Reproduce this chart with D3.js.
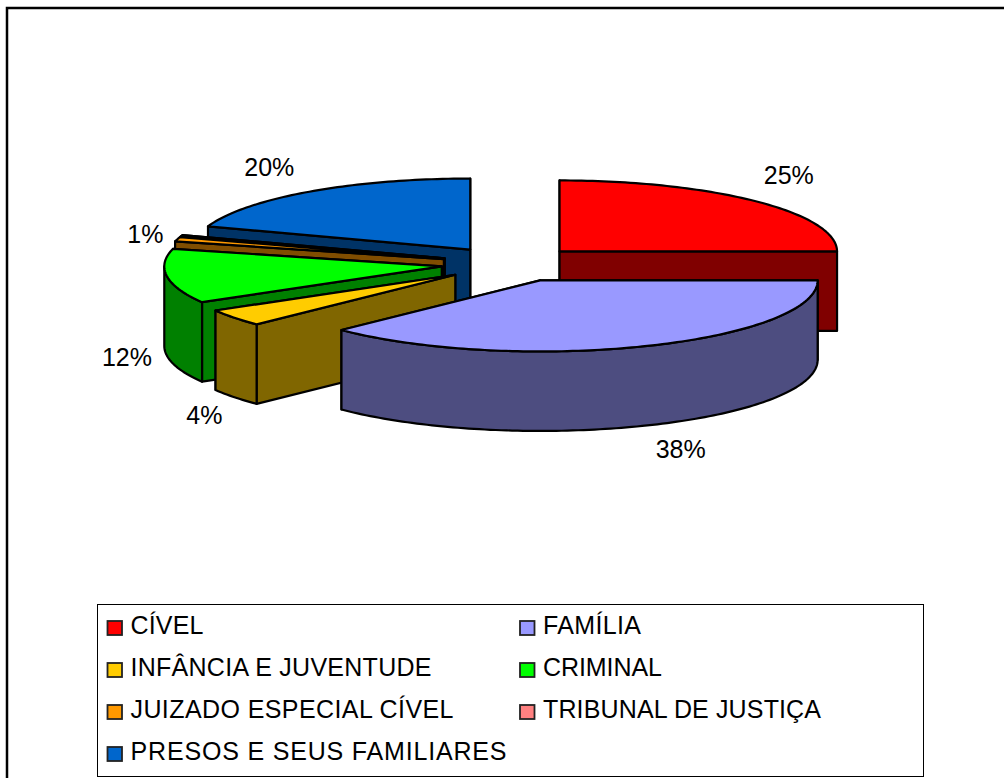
<!DOCTYPE html>
<html>
<head>
<meta charset="utf-8">
<style>
  html, body { margin: 0; padding: 0; background: #fff; }
  svg { display: block; }
  text { font-family: "Liberation Sans", Arial, sans-serif; fill: #000; }
</style>
</head>
<body>
<div id="chart"></div>
<script src="https://cdn.jsdelivr.net/npm/d3@7/dist/d3.min.js"></script>
<script>
const categories = ["CÍVEL", "FAMÍLIA", "INFÂNCIA E JUVENTUDE", "CRIMINAL", "JUIZADO ESPECIAL CÍVEL", "TRIBUNAL DE JUSTIÇA", "PRESOS E SEUS FAMILIARES"];
const values = [25, 37.7, 3.9, 12.4, 1, 0.3, 19.7];
const valueLabels = ["25%", "38%", "4%", "12%", "1%", "", "20%"];
const topColors = ["#FF0000", "#9999FF", "#FFCC00", "#00FF00", "#FF9900", "#FF8080", "#0066CC"];
const sideColors = ["#800000", "#4D4D80", "#806600", "#008000", "#804D00", "#804040", "#003366"];

const width = 1004;
const height = 778;
// the frame runs off the right and bottom of the picture
const margin = { top: 8, right: -6, bottom: -6, left: 7 };

// pie geometry
const center = { x: 510.5, y: 264 };
const rx = 277.5;
const ry = 71;
const depth = 79.5;
const explode = 0.25;

// hand tweaks
const labelNudge = [[-3, -6], [0, -2], [6, 1], [-4, -2], [4, 3], [0, 0], [-4, -2]];
const legendTextWidths = [73, 98, 301, 119, 323, 278, 376];

const svg = d3.select("#chart")
  .append("svg")
  .attr("width", width)
  .attr("height", height);

// outer frame
svg.append("rect")
  .attr("x", margin.left)
  .attr("y", margin.top)
  .attr("width", width - margin.left - margin.right)
  .attr("height", height - margin.top - margin.bottom)
  .attr("fill", "#fff")
  .attr("stroke", "#000")
  .attr("stroke-width", 2.5);

// unit circle -> flattened pie plane
const xScale = d3.scaleLinear().domain([-1, 1]).range([-rx, rx]);
const yScale = d3.scaleLinear().domain([-1, 1]).range([-ry, ry]);

const pie = d3.pie().sort(null).value(d => d.value);
const slices = pie(categories.map((name, i) => ({ name, value: values[i], i })));

slices.forEach(s => {
  s.mid = (s.startAngle + s.endAngle) / 2;
  s.ax = center.x + xScale(Math.sin(s.mid) * explode);
  s.ay = center.y + yScale(-Math.cos(s.mid) * explode);
  // familia sits a little further right than the others
  if (s.data.name === "FAMÍLIA") s.ax += 3.5;
});

const rimPoint = (s, a) => [s.ax + xScale(Math.sin(a)), s.ay + yScale(-Math.cos(a))];
const arcPoints = (s, a0, a1) => {
  const n = Math.max(1, Math.ceil((a1 - a0) / 0.02));
  return d3.range(n + 1).map(k => rimPoint(s, a0 + (a1 - a0) * k / n));
};
const line = d3.line();
const closed = pts => line(pts) + "Z";
const drop = pts => pts.map(p => [p[0], p[1] + depth]);

const pieG = svg.append("g")
  .attr("stroke", "#000")
  .attr("stroke-width", 2.2)
  .attr("stroke-linejoin", "round");

// far slices first
const drawOrder = slices.slice().sort((a, b) => a.ay - b.ay);

drawOrder.forEach(s => {
  const g = pieG.append("g");
  const apex = [s.ax, s.ay];

  // radial walls, the one further back goes first
  [s.startAngle, s.endAngle]
    .sort((a, b) => rimPoint(s, a)[1] - rimPoint(s, b)[1])
    .forEach(a => {
      const top = [apex, rimPoint(s, a)];
      g.append("path")
        .attr("d", closed(top.concat(drop(top).reverse())))
        .attr("fill", sideColors[s.data.i]);
    });

  // rim, only the part facing the viewer
  const a0 = Math.max(s.startAngle, Math.PI / 2);
  const a1 = Math.min(s.endAngle, Math.PI * 1.5);
  if (a1 > a0) {
    const rim = arcPoints(s, a0, a1);
    g.append("path")
      .attr("d", closed(rim.concat(drop(rim).reverse())))
      .attr("fill", sideColors[s.data.i]);
  }

  // top face
  g.append("path")
    .attr("d", closed([apex].concat(arcPoints(s, s.startAngle, s.endAngle))))
    .attr("fill", topColors[s.data.i]);
});

// percent labels, pushed out from the rim
svg.append("g")
  .selectAll("text")
  .data(slices.filter(s => valueLabels[s.data.i]))
  .join("text")
  .attr("x", s => rimPoint(s, s.mid)[0] + 36 * Math.sign(Math.sin(s.mid)) + labelNudge[s.data.i][0])
  .attr("y", s => rimPoint(s, s.mid)[1] - 28 * Math.cos(s.mid) + (Math.cos(s.mid) < 0 ? depth : 0) + labelNudge[s.data.i][1])
  .attr("dy", "0.35em")
  .attr("text-anchor", "middle")
  .attr("font-size", 25)
  .text(s => valueLabels[s.data.i]);

// legend
const legend = { x: 97, y: 604, w: 826, h: 172 };
svg.append("rect")
  .attr("x", legend.x + 0.5)
  .attr("y", legend.y + 0.5)
  .attr("width", legend.w)
  .attr("height", legend.h)
  .attr("fill", "#fff")
  .attr("stroke", "#000")
  .attr("stroke-width", 1);

const colScale = d3.scalePoint().domain([0, 1]).range([107.5, 520]);
const rowScale = d3.scalePoint().domain([0, 1, 2, 3]).range([626, 752]);

const item = svg.append("g")
  .selectAll("g")
  .data(categories)
  .join("g")
  .attr("transform", (d, i) => `translate(${colScale(i % 2)},${rowScale(Math.floor(i / 2))})`);

item.append("rect")
  .attr("x", 0)
  .attr("y", -5)
  .attr("width", 14.5)
  .attr("height", 14)
  .attr("fill", (d, i) => topColors[i])
  .attr("stroke", "#222")
  .attr("stroke-width", 1.8);

item.append("text")
  .attr("x", (d, i) => (i % 2 ? 23 : 23))
  .attr("dy", 7.5)
  .attr("font-size", 25)
  .attr("textLength", (d, i) => legendTextWidths[i])
  .attr("lengthAdjust", "spacing")
  .text(d => d);
</script>
</body>
</html>
